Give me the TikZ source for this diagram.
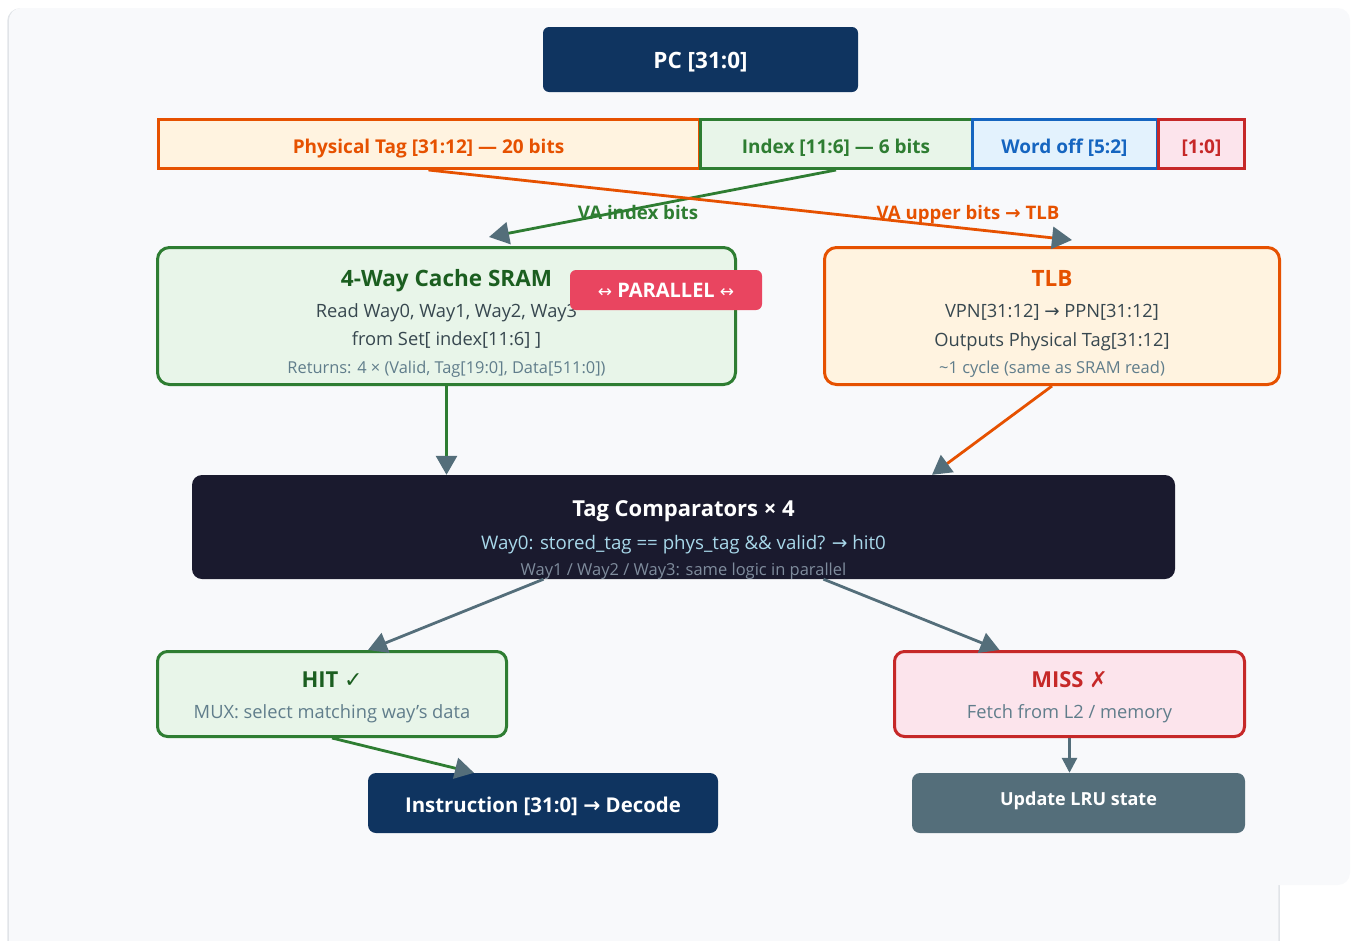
\documentclass[tikz,border=0pt]{standalone}
\usepackage{fontspec}
\setmainfont{Open Sans}
\newfontfamily\symfont{DejaVu Sans}
\usetikzlibrary{arrows.meta,calc}

\definecolor{bgfill}{HTML}{F8F9FB}
\definecolor{bgline}{HTML}{E1E4E8}
\definecolor{navy}{HTML}{0F3460}
\definecolor{ink}{HTML}{1A1A2E}
\definecolor{orng}{HTML}{E65100}
\definecolor{orngfill}{HTML}{FFF3E0}
\definecolor{grn}{HTML}{2E7D32}
\definecolor{grndark}{HTML}{1B5E20}
\definecolor{grnfill}{HTML}{E8F5E9}
\definecolor{blu}{HTML}{1565C0}
\definecolor{blufill}{HTML}{E3F2FD}
\definecolor{rd}{HTML}{C62828}
\definecolor{rdfill}{HTML}{FCE4EC}
\definecolor{slate}{HTML}{546E7A}
\definecolor{badge}{HTML}{E94560}
\definecolor{bodytxt}{HTML}{37474F}
\definecolor{softtxt}{HTML}{607D8B}
\definecolor{cyantxt}{HTML}{A8D8EA}
\definecolor{dimtxt}{HTML}{7F8C9D}

\newcommand{\fsz}[1]{\fontsize{#1}{#1}\selectfont}
\newcommand{\rarr}{{\symfont →}}
\newcommand{\lrarr}{{\symfont ↔}}
\newcommand{\chk}{{\symfont ✓}}
\newcommand{\crs}{{\symfont ✗}}

\tikzset{
  panel/.style={draw, line width=3pt, inner sep=0pt},
  card/.style={panel, rounded corners=12pt},
  solid box/.style={inner sep=0pt, rounded corners=8pt},
  field/.style={panel},
  txt/.style={inner sep=0pt, anchor=base},
  flow/.style={line width=2.8pt},
  bigtip/.style={-{Triangle[length=20pt,width=22pt,color=slate]}},
  midtip/.style={-{Triangle[length=19pt,width=21pt,color=slate]}},
  smalltip/.style={-{Triangle[length=15pt,width=15pt,color=slate]}},
}

\begin{document}
\begin{tikzpicture}[x=1pt,y=-1pt]
\useasboundingbox (0,0) rectangle (1357,940);

% background panels
\fill[bgfill, draw=bgline, line width=1.5pt, rounded corners=12pt] (8,9) rectangle (1279,965);
\fill[bgfill, rounded corners=12pt] (9.2,8) rectangle (1350,885);

% program counter
\node[solid box, fill=navy, rounded corners=6pt, minimum width=315pt, minimum height=65pt] (pc) at (700.5,59.5) {};
\node[txt, text=white] (pclbl) at (700.5,68) {\fsz{22.5}\bfseries PC [31:0]};

% address bit fields
\node[field, draw=orng, fill=orngfill, minimum width=541pt, minimum height=49pt] (tag) at (428.5,144) {};
\node[field, draw=grn, fill=grnfill, minimum width=272pt, minimum height=49pt] (idx) at (836,144) {};
\node[field, draw=blu, fill=blufill, minimum width=185pt, minimum height=49pt] (word) at (1064.5,144) {};
\node[field, draw=rd, fill=rdfill, minimum width=86pt, minimum height=49pt] (low) at (1201.5,144) {};
\node[txt, text=orng] (taglbl) at (428.5,153) {\fsz{19}\bfseries Physical Tag [31:12] — 20 bits};
\node[txt, text=grn] (idxlbl) at (836,153) {\fsz{19}\bfseries Index [11:6] — 6 bits};
\node[txt, text=blu] (wordlbl) at (1064.5,153) {\fsz{19}\bfseries Word off [5:2]};
\node[txt, text=rd] (lowlbl) at (1201.5,153) {\fsz{19}\bfseries [1:0]};

% cache SRAM
\node[card, draw=grn, fill=grnfill, minimum width=578pt, minimum height=137pt] (sram) at (446.5,316) {};
\node[txt, text=grndark] (sramt) at (446.5,286) {\fsz{22.5}\bfseries 4-Way Cache SRAM};
\node[txt, text=bodytxt] (sram1) at (446.5,317.5) {\fsz{18.3}Read Way0, Way1, Way2, Way3};
\node[txt, text=bodytxt] (sram2) at (446.5,345.5) {\fsz{18.3}from Set[ index[11:6] ]};
\node[txt, text=softtxt] (sram3) at (446.5,373.5) {\fsz{16.4}Returns: 4 × (Valid, Tag[19:0], Data[511:0])};

% TLB
\node[card, draw=orng, fill=orngfill, minimum width=455pt, minimum height=137pt] (tlb) at (1052,316) {};
\node[txt, text=orng] (tlbt) at (1052,286) {\fsz{22.5}\bfseries TLB};
\node[txt, text=bodytxt] (tlb1) at (1052,317.5) {\fsz{18.3}VPN[31:12] \rarr{} PPN[31:12]};
\node[txt, text=bodytxt] (tlb2) at (1052,346) {\fsz{18.3}Outputs Physical Tag[31:12]};
\node[txt, text=softtxt] (tlb3) at (1052,373.5) {\fsz{16.5}\textasciitilde1 cycle (same as SRAM read)};

% parallel badge
\node[solid box, fill=badge, rounded corners=6pt, minimum width=192pt, minimum height=40pt] (par) at (666,290) {};
\node[txt, text=white] (parlbl) at (666,297.5) {\fsz{20}{\fsz{17}\lrarr}\ \bfseries PARALLEL\ {\mdseries\fsz{17}\lrarr}};

% tag comparators
\node[solid box, fill=ink, rounded corners=10pt, minimum width=983pt, minimum height=104pt] (comp) at (683.5,527) {};
\node[txt, text=white] (compt) at (683.5,516) {\fsz{22}\bfseries Tag Comparators × 4};
\node[txt, text=cyantxt] (comp1) at (683.5,549.5) {\fsz{18.7}Way0: stored\_tag == phys\_tag \&\& valid? \rarr{} hit0};
\node[txt, text=dimtxt] (comp2) at (683.5,575) {\fsz{16.5}Way1 / Way2 / Way3: same logic in parallel};

% hit / miss
\node[card, rounded corners=10pt, draw=grn, fill=grnfill, minimum width=349pt, minimum height=85pt] (hit) at (332,694) {};
\node[txt, text=grndark] (hitt) at (332,687) {\fsz{22}\bfseries HIT {\mdseries\chk}};
\node[txt, text=softtxt] (hit1) at (332,718.5) {\fsz{18.3}MUX: select matching way's data};
\node[card, rounded corners=10pt, draw=rd, fill=rdfill, minimum width=350pt, minimum height=85pt] (miss) at (1069.5,694) {};
\node[txt, text=rd] (misst) at (1069.5,687) {\fsz{22}\bfseries MISS {\mdseries\crs}};
\node[txt, text=softtxt] (miss1) at (1069.5,718.5) {\fsz{18.3}Fetch from L2 / memory};

% results
\node[solid box, fill=navy, minimum width=350pt, minimum height=60pt] (instr) at (543,803) {};
\node[txt, text=white] (instrlbl) at (543,812) {\fsz{20.4}\bfseries Instruction [31:0] \rarr{} Decode};
\node[solid box, fill=slate, minimum width=333pt, minimum height=60pt] (lru) at (1078.5,803) {};
\node[txt, text=white] (lrulbl) at (1078.5,805) {\fsz{18}\bfseries Update LRU state};

% connector labels (the lines run across them)
\node[txt, text=grn] (vaidx) at (638,219.5) {\fsz{18.7}\bfseries VA index bits};
\node[txt, text=orng] (vaup) at (968,219.5) {\fsz{18.6}\bfseries VA upper bits \rarr{} TLB};

% connectors
\draw[flow, draw=grn, bigtip] (idx.south) -- ($(sram.north west)+(333,-9)$);
\draw[flow, draw=orng, bigtip] (tag.south) -- ($(tlb.north)+(20,-6)$);
\draw[flow, draw=grn, midtip] (sram.south) -- (sram.south |- comp.north);
\draw[flow, draw=orng, midtip] (tlb.south) -- ($(comp.north)+(248.5,0)$);
\draw[flow, draw=slate, midtip] ($(comp.south)+(-140,0)$) -- ($(hit.north)+(36,0)$);
\draw[flow, draw=slate, midtip] ($(comp.south)+(140,0)$) -- ($(miss.north)+(-70,0)$);
\draw[flow, draw=grn, midtip] (hit.south) -- ($(instr.north)+(-69,0)$);
\draw[flow, draw=slate, smalltip] (miss.south) -- (miss.south |- lru.north);
\end{tikzpicture}
\end{document}
